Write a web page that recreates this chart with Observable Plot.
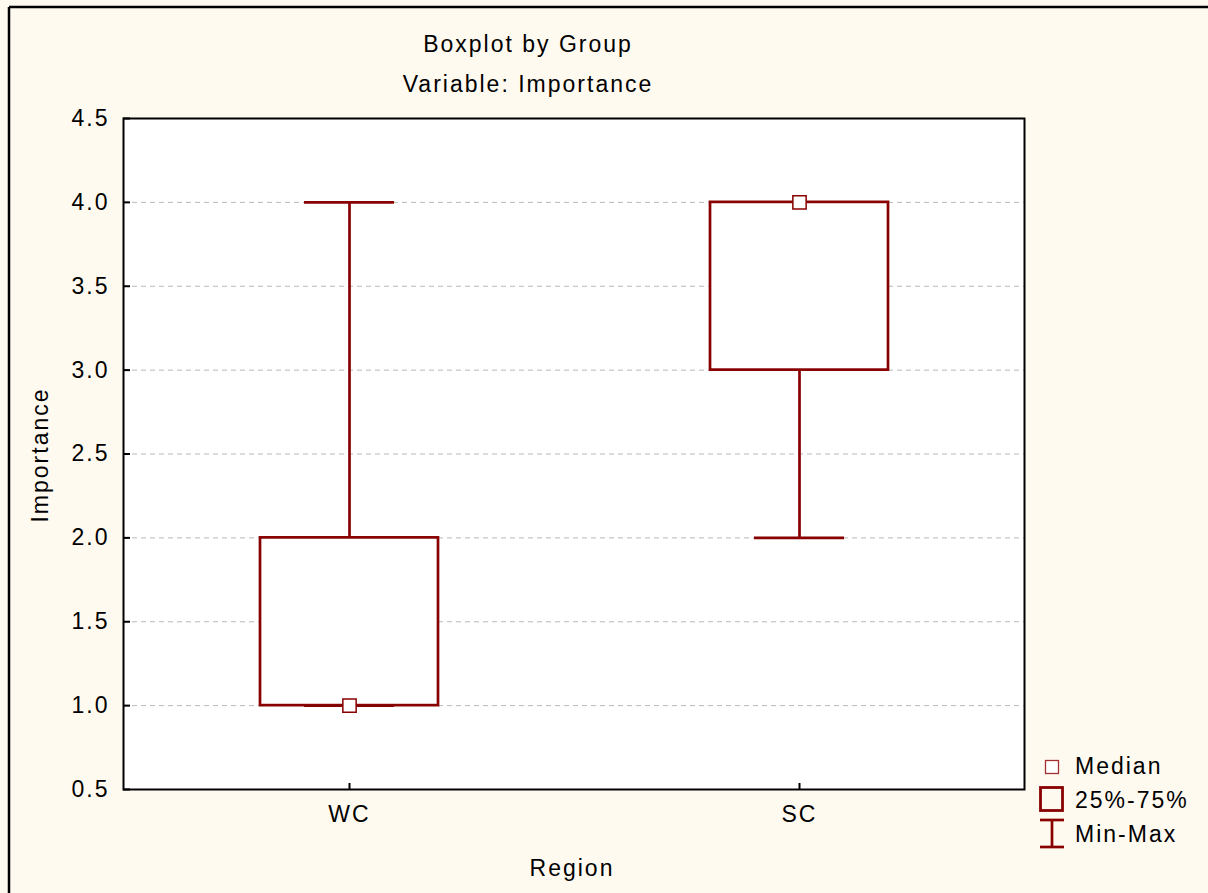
<!DOCTYPE html>
<html>
<head>
<meta charset="utf-8">
<script src="https://cdn.jsdelivr.net/npm/d3@7"></script>
<script src="https://cdn.jsdelivr.net/npm/@observablehq/plot@0.6"></script>
<style>
  html, body { margin: 0; padding: 0; background: #FFFAF0; }
  #chart { width: 1208px; height: 893px; overflow: hidden; }
</style>
</head>
<body>
<div id="chart"></div>
<script>
// ---- data ----
const regions = ["WC", "SC"];
const mins    = [1, 2];
const q1s     = [1, 3];
const medians = [1, 4];
const q3s     = [2, 4];
const maxs    = [4, 4];
const yTicks  = [0.5, 1.0, 1.5, 2.0, 2.5, 3.0, 3.5, 4.0, 4.5];
const gridTicks = [1.0, 1.5, 2.0, 2.5, 3.0, 3.5, 4.0];
const titleLines = ["Boxplot by Group", "Variable: Importance"];
const xLabel = "Region";
const yLabel = "Importance";
const legendLabels = ["Median", "25%-75%", "Min-Max"];

const data = regions.map((r, i) => ({
  region: r, min: mins[i], q1: q1s[i], median: medians[i], q3: q3s[i], max: maxs[i]
}));

const RED = "#880000";
const FONT = "'Liberation Sans', Arial, sans-serif";
const LS = "2px";

const plot = Plot.plot({
  width: 1208,
  height: 893,
  marginTop: 118,
  marginLeft: 123,
  marginRight: 184,
  marginBottom: 104,
  style: {background: "#FFFAF0", fontFamily: FONT, fontSize: "23px", letterSpacing: LS, color: "#000"},
  x: {type: "band", domain: regions, padding: 0},
  y: {domain: [0.5, 4.5]},
  marks: [
    Plot.frame({fill: "white", stroke: "none"}),
    Plot.ruleY(gridTicks, {y: d => d, stroke: "#b8b8b8", strokeDasharray: "5,4", strokeWidth: 1}),
    Plot.ruleX(data, {x: "region", y1: "min", y2: "max", stroke: RED, strokeWidth: 2.7}),
    Plot.tickY(data, {x: "region", y: "max", stroke: RED, strokeWidth: 2.7, insetLeft: 180, insetRight: 180}),
    Plot.tickY(data, {x: "region", y: "min", stroke: RED, strokeWidth: 2.7, insetLeft: 180, insetRight: 180}),
    Plot.barY(data, {x: "region", y1: "q1", y2: "q3", fill: "white", stroke: RED, strokeWidth: 2.7, insetLeft: 136, insetRight: 136}),
    Plot.dot(data, {x: "region", y: "median", symbol: "square", r: 7.5, fill: "white", stroke: RED, strokeWidth: 1.5}),
    Plot.tickY(yTicks, {y: d => d, stroke: "black", strokeWidth: 2, insetRight: 894}),
    Plot.ruleX(regions, {x: d => d, y1: 0.5, y2: 0.536, stroke: "black", strokeWidth: 2}),
    Plot.frame({stroke: "black", strokeWidth: 2}),
    Plot.axisY({ticks: yTicks, tickSize: 0, tickPadding: 14, tickFormat: d3.format(".1f"), label: null, fontSize: 23}),
    Plot.axisX({tickSize: 0, tickPadding: 16, label: null, fontSize: 23})
  ]
});

document.getElementById("chart").appendChild(plot);

const svg = d3.select(plot);
const g = svg.append("g").attr("font-family", FONT).attr("font-size", 23)
  .attr("letter-spacing", LS).attr("fill", "#000");

// outer border (left & top)
g.append("line").attr("x1", 9).attr("x2", 9).attr("y1", 7).attr("y2", 893).attr("stroke", "black").attr("stroke-width", 2.5);
g.append("line").attr("x1", 9).attr("x2", 1208).attr("y1", 7).attr("y2", 7).attr("stroke", "black").attr("stroke-width", 2.5);

// titles
g.append("text").attr("x", 528).attr("y", 52).attr("text-anchor", "middle").text(titleLines[0]);
g.append("text").attr("x", 528).attr("y", 92).attr("text-anchor", "middle").text(titleLines[1]);

// axis labels
g.append("text").attr("x", 572).attr("y", 876).attr("text-anchor", "middle").text(xLabel);
g.append("text").attr("transform", "translate(48,455) rotate(-90)").attr("text-anchor", "middle").text(yLabel);

// legend
g.append("rect").attr("x", 1045.5).attr("y", 760.5).attr("width", 13).attr("height", 13)
  .attr("fill", "white").attr("stroke", "#a03030").attr("stroke-width", 1.3);
g.append("text").attr("x", 1075).attr("y", 774).attr("text-anchor", "start").text(legendLabels[0]);

g.append("rect").attr("x", 1040.5).attr("y", 787.5).attr("width", 22).attr("height", 23)
  .attr("fill", "none").attr("stroke", RED).attr("stroke-width", 2.8);
g.append("text").attr("x", 1075).attr("y", 808).attr("text-anchor", "start").text(legendLabels[1]);

g.append("line").attr("x1", 1040).attr("x2", 1064).attr("y1", 820).attr("y2", 820).attr("stroke", RED).attr("stroke-width", 2.7);
g.append("line").attr("x1", 1040).attr("x2", 1064).attr("y1", 847).attr("y2", 847).attr("stroke", RED).attr("stroke-width", 2.7);
g.append("line").attr("x1", 1052).attr("x2", 1052).attr("y1", 820).attr("y2", 847).attr("stroke", RED).attr("stroke-width", 2.7);
g.append("text").attr("x", 1075).attr("y", 842).attr("text-anchor", "start").text(legendLabels[2]);
</script>
</body>
</html>
